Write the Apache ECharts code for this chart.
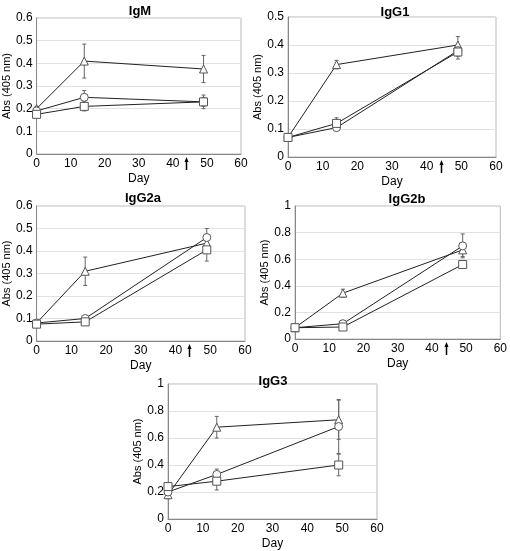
<!DOCTYPE html>
<html><head><meta charset="utf-8">
<script src="https://cdn.jsdelivr.net/npm/echarts@6/dist/echarts.min.js"></script>
<style>html,body{margin:0;padding:0;background:#fff}#c{width:510px;height:551px}</style>
</head><body><div id="c"></div>
<script>
const days = [0, 14, 49];
const titles = ['IgM', 'IgG1', 'IgG2a', 'IgG2b', 'IgG3'];
const yMax = [0.6, 0.5, 0.6, 1, 1];
const yStep = [0.1, 0.1, 0.1, 0.2, 0.2];
const arrowDay = 44;

const igmTri = [0.20, 0.41, 0.375],  igmTriErr = [0.01, 0.075, 0.06];
const igmCirc = [0.19, 0.25, 0.23],  igmCircErr = [0.01, 0.03, 0.02];
const igmSq = [0.175, 0.21, 0.23],   igmSqErr = [0.01, 0.02, 0.03];

const igg1Tri = [0.07, 0.33, 0.40],   igg1TriErr = [0.005, 0.015, 0.03];
const igg1Circ = [0.07, 0.105, 0.38], igg1CircErr = [0.005, 0.01, 0.02];
const igg1Sq = [0.07, 0.12, 0.375],   igg1SqErr = [0.005, 0.02, 0.025];

const igg2aTri = [0.08, 0.31, 0.435],  igg2aTriErr = [0.005, 0.063, 0.03];
const igg2aCirc = [0.08, 0.10, 0.46],  igg2aCircErr = [0.005, 0.01, 0.04];
const igg2aSq = [0.075, 0.085, 0.405], igg2aSqErr = [0.005, 0.01, 0.05];

const igg2bTri = [0.085, 0.345, 0.67], igg2bTriErr = [0.01, 0.03, 0.05];
const igg2bCirc = [0.085, 0.115, 0.70], igg2bCircErr = [0.01, 0.02, 0.09];
const igg2bSq = [0.085, 0.09, 0.56],   igg2bSqErr = [0.01, 0.02, 0.03];

const igg3Tri = [0.18, 0.68, 0.735],  igg3TriErr = [0.03, 0.08, 0.145];
const igg3Circ = [0.20, 0.33, 0.685], igg3CircErr = [0.02, 0.04, 0.2];
const igg3Sq = [0.24, 0.28, 0.40],    igg3SqErr = [0.03, 0.065, 0.08];

const panels = [
  [[igmTri, igmTriErr], [igmCirc, igmCircErr], [igmSq, igmSqErr]],
  [[igg1Tri, igg1TriErr], [igg1Circ, igg1CircErr], [igg1Sq, igg1SqErr]],
  [[igg2aTri, igg2aTriErr], [igg2aCirc, igg2aCircErr], [igg2aSq, igg2aSqErr]],
  [[igg2bTri, igg2bTriErr], [igg2bCirc, igg2bCircErr], [igg2bSq, igg2bSqErr]],
  [[igg3Tri, igg3TriErr], [igg3Circ, igg3CircErr], [igg3Sq, igg3SqErr]]
];
const symbols = ['triangle', 'circle', 'rect'];
const symSizes = [8, 8, 8];

const gridPos = [
  {left: 33, top: 18, width: 208, height: 136},
  {left: 288, top: 17, width: 208, height: 140},
  {left: 36, top: 206, width: 209, height: 135},
  {left: 295, top: 206, width: 206, height: 133},
  {left: 168, top: 384, width: 209, height: 138}
];
const titlePos = [[135, 0], [390, 1], [138, 187], [402, 188], [268, 370]];

const FONT = 'Liberation Sans, Arial, sans-serif';
const grids = [], xAxes = [], yAxes = [], series = [], titleArr = [];
gridPos.forEach((g, i) => {
  grids.push(Object.assign({show: true, borderColor: '#b8b8b8', borderWidth: 1, backgroundColor: '#fff'}, g));
  titleArr.push({text: titles[i], left: titlePos[i][0], top: titlePos[i][1], textAlign: 'center',
    textStyle: {fontFamily: FONT, fontSize: 13, fontWeight: 'bold', color: '#000'}});
  xAxes.push({gridIndex: i, type: 'value', min: 0, max: 60, interval: 10,
    name: 'Day', nameLocation: 'middle', nameGap: 19,
    nameTextStyle: {fontFamily: FONT, fontSize: 12, color: '#000'},
    axisLine: {lineStyle: {color: '#888'}}, axisTick: {show: false},
    axisLabel: {fontFamily: FONT, fontSize: 12, color: '#000', margin: 4},
    splitLine: {show: false}});
  yAxes.push({gridIndex: i, type: 'value', min: 0, max: yMax[i], interval: yStep[i],
    name: 'Abs (405 nm)', nameLocation: 'middle', nameGap: 22,
    nameTextStyle: {fontFamily: FONT, fontSize: 11, color: '#000'},
    axisLine: {show: true, lineStyle: {color: '#888'}}, axisTick: {show: false},
    axisLabel: {fontFamily: FONT, fontSize: 12, color: '#000', margin: 4,
      formatter: v => String(Math.round(v * 10) / 10)},
    splitLine: {show: true, lineStyle: {color: '#e2e2e2', width: 1}}});
  panels[i].forEach((s, k) => {
    const vals = s[0], errs = s[1];
    series.push({type: 'custom', xAxisIndex: i, yAxisIndex: i, z: 1, clip: false,
      data: days.map((d, j) => [d, vals[j] - errs[j], vals[j] + errs[j]]),
      renderItem: (params, api) => {
        const lo = api.coord([api.value(0), api.value(1)]);
        const hi = api.coord([api.value(0), api.value(2)]);
        const st = {stroke: '#666', lineWidth: 1};
        return {type: 'group', children: [
          {type: 'line', shape: {x1: lo[0], y1: lo[1], x2: hi[0], y2: hi[1]}, style: st},
          {type: 'line', shape: {x1: lo[0] - 2, y1: lo[1], x2: lo[0] + 2, y2: lo[1]}, style: st},
          {type: 'line', shape: {x1: hi[0] - 2, y1: hi[1], x2: hi[0] + 2, y2: hi[1]}, style: st}
        ]};
      }});
    series.push({type: 'line', xAxisIndex: i, yAxisIndex: i, z: 2, clip: false,
      data: days.map((d, j) => [d, vals[j]]),
      symbol: symbols[k], symbolSize: symSizes[k], showSymbol: true,
      lineStyle: {color: '#222', width: 1},
      itemStyle: {color: '#fff', borderColor: '#555', borderWidth: 1},
      animation: false});
  });
});

const chart = echarts.init(document.getElementById('c'), null, {renderer: 'canvas'});
chart.setOption({animation: false, title: titleArr, grid: grids, xAxis: xAxes, yAxis: yAxes, series: series});

const graphics = [];
for (let i = 0; i < 4; i++) {
  const p = chart.convertToPixel({gridIndex: i}, [arrowDay, 0]);
  const x = Math.round(p[0]) + 0.5, y = p[1];
  graphics.push({type: 'line', shape: {x1: x, y1: y + 16, x2: x, y2: y + 6}, style: {stroke: '#000', lineWidth: 1.5}});
  graphics.push({type: 'polygon', shape: {points: [[x - 2, y + 8], [x + 2, y + 8], [x, y + 3]]}, style: {fill: '#000'}});
}
chart.setOption({graphic: graphics});
</script>
</body></html>
